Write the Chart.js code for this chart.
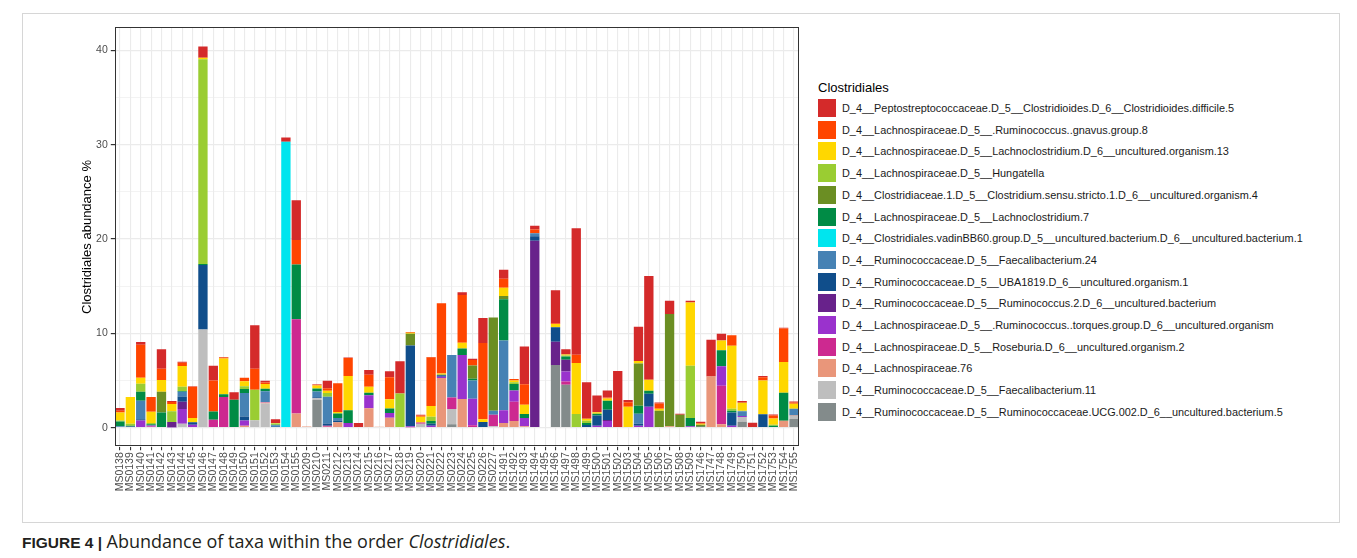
<!DOCTYPE html>
<html>
<head>
<meta charset="utf-8">
<script src="https://cdn.jsdelivr.net/npm/chart.js@4.4.1/dist/chart.umd.min.js"></script>
<style>
  html, body { margin: 0; padding: 0; background: #fff; }
  body { width: 1357px; height: 558px; position: relative; overflow: hidden;
         font-family: "Liberation Sans", Arial, sans-serif; }
  #frame { position: absolute; left: 22px; top: 13px; width: 1318px; height: 510px;
           border: 1px solid #d6d6d6; box-sizing: border-box; }
  #chart { position: absolute; left: 22px; top: 13px; }
  #legend { position: absolute; left: 0; top: 0; }
  .lg-title { position: absolute; left: 818px; font-size: 13px; color: #000; line-height: 15px; white-space: nowrap; }
  .lg-box { position: absolute; left: 818px; width: 18px; height: 18px; }
  .lg-text { position: absolute; left: 842px; font-size: 10.9px; line-height: 12px; color: #1a1a1a; white-space: nowrap; }
  #caption { position: absolute; left: 22px; top: 530px; line-height: 22px; color: #231f20; white-space: nowrap; }
  #caption b { font-family: "Liberation Sans", Arial, sans-serif; font-size: 15.5px; }
  #caption span { font-family: "Open Sans", sans-serif; font-size: 18px; }
</style>
</head>
<body>
<div id="frame"></div>
<canvas id="chart" width="788" height="497"></canvas>
<div id="legend"></div>
<div id="caption"><b>FIGURE 4 |</b> <span>Abundance of taxa within the order <i>Clostridiales</i>.</span></div>
<script>
// Samples along the x axis
const samples = ["MS0138","MS0139","MS0140","MS0141","MS0142","MS0143","MS0144","MS0145","MS0146","MS0147","MS0148",
  "MS0149","MS0150","MS0151","MS0152","MS0153","MS0154","MS0155","MS0209","MS0210","MS0211","MS0212",
  "MS0213","MS0214","MS0215","MS0216","MS0217","MS0218","MS0219","MS0220","MS0221","MS0222","MS0223",
  "MS0224","MS0225","MS0226","MS0227","MS1491","MS1492","MS1493","MS1494","MS1495","MS1496","MS1497",
  "MS1498","MS1499","MS1500","MS1501","MS1502","MS1503","MS1504","MS1505","MS1506","MS1507","MS1508",
  "MS1509","MS1746","MS1747","MS1748","MS1749","MS1750","MS1751","MS1752","MS1753","MS1754","MS1755"];

// Taxon names, listed top of stack first (same order as the legend)
const taxa = [
  "D_4__Peptostreptococcaceae.D_5__Clostridioides.D_6__Clostridioides.difficile.5",
  "D_4__Lachnospiraceae.D_5__.Ruminococcus..gnavus.group.8",
  "D_4__Lachnospiraceae.D_5__Lachnoclostridium.D_6__uncultured.organism.13",
  "D_4__Lachnospiraceae.D_5__Hungatella",
  "D_4__Clostridiaceae.1.D_5__Clostridium.sensu.stricto.1.D_6__uncultured.organism.4",
  "D_4__Lachnospiraceae.D_5__Lachnoclostridium.7",
  "D_4__Clostridiales.vadinBB60.group.D_5__uncultured.bacterium.D_6__uncultured.bacterium.1",
  "D_4__Ruminococcaceae.D_5__Faecalibacterium.24",
  "D_4__Ruminococcaceae.D_5__UBA1819.D_6__uncultured.organism.1",
  "D_4__Ruminococcaceae.D_5__Ruminococcus.2.D_6__uncultured.bacterium",
  "D_4__Lachnospiraceae.D_5__.Ruminococcus..torques.group.D_6__uncultured.organism",
  "D_4__Lachnospiraceae.D_5__Roseburia.D_6__uncultured.organism.2",
  "D_4__Lachnospiraceae.76",
  "D_4__Ruminococcaceae.D_5__Faecalibacterium.11",
  "D_4__Ruminococcaceae.D_5__Ruminococcaceae.UCG.002.D_6__uncultured.bacterium.5"
];

const taxonColors = ["#D42A2A","#FF4500","#FFD700","#9ACD32","#6B8E23","#008B45","#00E5EE","#4682B4",
  "#104E8B","#68228B","#9A32CD","#CD2990","#E9967A","#BEBEBE","#838B8B"];

// Abundance (%) per sample, one array per taxon
const peptostreptococcaceae = [0.28,0,0.28,0,2.05,0.1,0.1,0.07,1.2,1.55,0.05, 0.78,0,4.6,0.18,0.4,0.45,4.2,0,0.05,0.8,0,
  0.07,0.5,0.5,0,0.63,3.42,0,0.08,0.05,0,0, 0.28,0.14,2.65,0,0.95,0,4.02,0.4,0,3.5,0.56,
  13.4,3.88,1.8,0.75,6.0,0.25,3.63,11.0,0.1,1.4,0.1, 0.18,0.12,3.88,0.7,0,0.18,0.53,0.14,0.1,0.08,0.1];
const gnavus = [0.2,0,3.5,1.55,1.2,0.22,0.35,3.3,0,3.3,0.1, 0,0.35,2.22,0.15,0,0,2.6,0,0.1,0.25,3.05,
  1.9,0,1.27,0,2.33,0,0.1,0.15,5.15,7.45,0, 5.08,0.56,8.1,0,0.95,0.15,2.15,0.4,0,0.07,0,
  0.88,0,0,0.1,0,0.46,0,0,0.56,0,0, 0,0.1,0,0,1.13,0,0,0.32,0.32,3.56,0.15];
const lachnoclostridium13 = [0.85,2.85,0.65,1.2,1.25,0.75,2.2,0.45,0.15,0,3.8, 0,0.53,0,0.5,0.05,0,0,0,0.25,0.25,0.15,
  3.63,0,0.63,0,1.0,0,0.1,0.6,1.15,0.15,0, 0.6,0,0.28,0,0.88,0.18,1.0,0,0,0.35,0.12,
  5.4,0.2,0.14,0.25,0,2.22,0.25,1.16,0.2,0,0, 6.7,0.1,0,1.05,6.67,0.85,0,3.6,0.67,3.25,0.53];
const hungatella = [0.1,0.2,0.85,0.12,0,1.15,0.45,0,21.7,0,0, 0,0.3,3.25,0,0.15,0,0,0,0.1,0.4,0,
  0,0,0,0,0,3.63,0,0,0.45,0,0, 0,0,0,0,0,0.2,0,0,0,0,0.1,
  1.45,0.25,0,0,0,0,0,0,0,0,0, 5.54,0,0,0,0.2,0.07,0,0,0.1,0,0];
const clostridiumSS = [0,0,0,0,2.2,0,0,0,0,0,0, 0,0,0,0,0,0,0,0,0,0,0,
  0,0,0,0,0,0,1.23,0,0,0,0, 0,1.41,0,9.88,0.35,0,0,0,0,0,0,
  0,0,0,0,0,0,4.5,0,1.8,11.9,1.38, 0,0.2,0,0,0,0,0,0,0,0,0];
const lachnoclostridium7 = [0.5,0.08,0.95,0.15,1.6,0,0.07,0,0.1,0.85,0.28, 2.96,0.42,0,0.28,0.05,0,5.8,0,0.28,0,0.5,
  1.34,0,0.28,0,0.46,0,0,0,0.3,0.05,0, 0.7,0.18,0,0,4.37,0.67,0.42,0,0,0,0.35,
  0,0.2,0.18,0.95,0,0,0.85,0.32,0,0,0, 0.88,0,0,1.7,0.2,0,0,0,0.2,2.96,0];
const vadinBB60 = [0,0,0,0,0,0,0,0,0,0,0, 0,0,0,0,0,30.3,0,0,0,0,0,
  0,0,0,0,0,0,0,0,0,0,0, 0,0,0,0,0,0,0,0,0,0,0,
  0,0,0,0,0,0,0,0,0,0,0, 0,0,0,0,0,0,0,0,0,0,0];
const faecalibacterium24 = [0.15,0,1.95,0,0,0,0.5,0,0,0,0, 0,2.5,0,1.13,0.25,0,0,0,0.62,2.82,0.25,
  0,0,0,0,0,0,0,0,0,0,4.5, 0,1.94,0,0.42,7.4,0,0,0.3,0,0,0,
  0,0,0,0,0,0,1.06,0,0,0,0, 0,0,0,0,0,0.5,0,0,0,0,0.7];
const uba1819 = [0,0.12,0.15,0,0,0,0.56,0.28,6.85,0,0, 0,0.42,0,0,0,0,0,0,0.1,0.25,0.2,
  0,0,0,0,0,0,8.57,0,0.2,0.15,0, 0,0,0.6,0,0,0,0,0.5,0,1.55,0,
  0,0.28,1.1,1.1,0,0,0.2,1.38,0,0,0, 0,0.1,0,0,1.4,0,0,1.41,0,0,0];
const ruminococcus2 = [0,0,0,0,0,0.55,0.78,0,0,0,0, 0,0,0,0,0,0,0,0,0,0,0,
  0,0,0,0,0,0,0,0,0,0,0, 0,0,0,0,0,0,0,19.8,0,2.47,1.23,
  0,0,0,0.1,0,0,0,0,0,0,0, 0,0,0,0,0,0,0,0,0,0,0];
const torques = [0,0,0.75,0.1,0,0.05,1.55,0.3,0,0,0, 0,0.56,0,0.05,0,0,0,0,0,0,0,
  0.5,0,1.38,0,0.5,0,0.1,0,0.2,0.15,0, 4.66,2.82,0,0,1.34,1.2,0.88,0,0,0,1.06,
  0,0,0.2,0.7,0,0,0.2,2.22,0,0,0, 0.14,0,0,2.05,0.2,0.1,0,0,0,0,0];
const roseburia = [0,0,0,0.12,0,0,0,0,0,0.85,3.25, 0,0,0,0,0,0,10.0,0,0,0.1,0,
  0,0,0,0,0,0,0,0.15,0,0,1.23, 0,0.25,0,1.23,0,2.05,0,0,0,0,0.35,
  0,0,0,0,0,0,0,0,0,0,0, 0,0,0,4.1,0,0,0,0,0,0,0];
const lachnospiraceae76 = [0,0,0,0,0,0,0,0,0,0,0, 0,0.2,0,0.1,0,0,1.5,0.12,0,0.1,0.56,
  0,0,2.05,0.1,1.06,0,0.05,0,0,5.25,0, 3.03,0,0,0,0.5,0.7,0.14,0,0,0,0,
  0,0,0,0,0,0,0,0,0,0.14,0, 0,0,5.43,0.35,0,0,0,0,0,0.74,0.05];
const faecalibacterium11 = [0,0,0,0,0,0,0.42,0,10.4,0,0, 0,0,0.78,2.57,0,0,0,0,0.18,0,0,
  0,0,0,0,0,0,0,0.4,0,0,1.62, 0,0,0,0.14,0,0,0,0,0,0,0,
  0,0,0,0,0,0,0,0,0,0,0, 0,0,0,0,0,0.5,0,0,0,0,0.32];
const ucg002 = [0,0,0,0,0,0,0,0,0,0,0, 0,0,0,0,0,0,0,0,2.93,0,0,
  0,0,0,0,0,0,0,0,0,0,0.35, 0,0,0,0,0,0,0,0,0,6.63,4.55,
  0,0,0,0,0,0,0,0,0,0,0, 0,0,0,0,0,0.63,0,0,0,0,0.92];

const seriesTopFirst = [peptostreptococcaceae, gnavus, lachnoclostridium13, hungatella, clostridiumSS,
  lachnoclostridium7, vadinBB60, faecalibacterium24, uba1819, ruminococcus2, torques, roseburia,
  lachnospiraceae76, faecalibacterium11, ucg002];

const yTicks = [0, 5, 10, 15, 20, 25, 30, 35, 40];

// Stack is built bottom-up, so the last taxon goes first
const datasets = taxa.map((name, i) => ({
  label: name,
  data: seriesTopFirst[i],
  backgroundColor: taxonColors[i],
  borderWidth: 0,
  stack: 'abundance'
})).reverse();

const panelFrame = {
  id: 'panelFrame',
  afterDraw(chart) {
    const { ctx, chartArea: a } = chart;
    ctx.save();
    ctx.strokeStyle = '#333333';
    ctx.lineWidth = 1;
    ctx.strokeRect(Math.round(a.left) + 0.5, Math.round(a.top) + 0.5,
                   Math.round(a.right - a.left) - 1, Math.round(a.bottom - a.top) - 1);
    ctx.restore();
  }
};

const isMajor = v => v % 10 === 0;

new Chart(document.getElementById('chart'), {
  type: 'bar',
  data: { labels: samples, datasets },
  options: {
    responsive: false,
    animation: false,
    layout: { padding: { left: 54, top: 14.3, right: 10.8, bottom: 0 } },
    datasets: { bar: { barPercentage: 0.9, categoryPercentage: 1.0 } },
    plugins: { legend: { display: false }, tooltip: { enabled: false } },
    scales: {
      x: {
        stacked: true,
        offset: true,
        border: { display: false },
        grid: { offset: false, color: '#EBEBEB', lineWidth: 1.1, tickLength: 3.5, tickColor: '#333333' },
        ticks: { autoSkip: false, minRotation: 90, maxRotation: 90, padding: 2, color: '#4D4D4D',
                 font: { family: 'Liberation Sans', size: 10.5 } },
        afterFit: s => { s.height = 63.3; }
      },
      y: {
        stacked: true,
        min: -2.02,
        max: 42.44,
        border: { display: false },
        afterBuildTicks: s => { s.ticks = yTicks.map(v => ({ value: v })); },
        grid: {
          color: '#EBEBEB',
          lineWidth: c => (c.tick && isMajor(c.tick.value)) ? 1.2 : 0.6,
          tickLength: 4,
          tickColor: c => (c.tick && isMajor(c.tick.value)) ? '#333333' : 'rgba(0,0,0,0)'
        },
        ticks: { padding: 3, color: '#4D4D4D', font: { family: 'Liberation Sans', size: 10.5 },
                 callback: v => isMajor(v) ? String(v) : '' },
        title: { display: true, text: 'Clostridiales abundance %', color: '#000',
                 font: { family: 'Liberation Sans', size: 13 }, padding: { top: 4, bottom: 4 } },
        afterFit: s => { s.width = 38.8; }
      }
    }
  },
  plugins: [panelFrame]
});

// Legend on the right
const legend = document.getElementById('legend');
const title = document.createElement('div');
title.className = 'lg-title';
title.style.top = '79.5px';
title.textContent = 'Clostridiales';
legend.appendChild(title);
taxa.forEach((name, i) => {
  const cy = 108 + i * 21.7;
  const box = document.createElement('div');
  box.className = 'lg-box';
  box.style.top = (cy - 9) + 'px';
  box.style.background = taxonColors[i];
  legend.appendChild(box);
  const t = document.createElement('div');
  t.className = 'lg-text';
  t.style.top = (cy - 6) + 'px';
  t.textContent = name;
  legend.appendChild(t);
});
</script>
</body>
</html>
